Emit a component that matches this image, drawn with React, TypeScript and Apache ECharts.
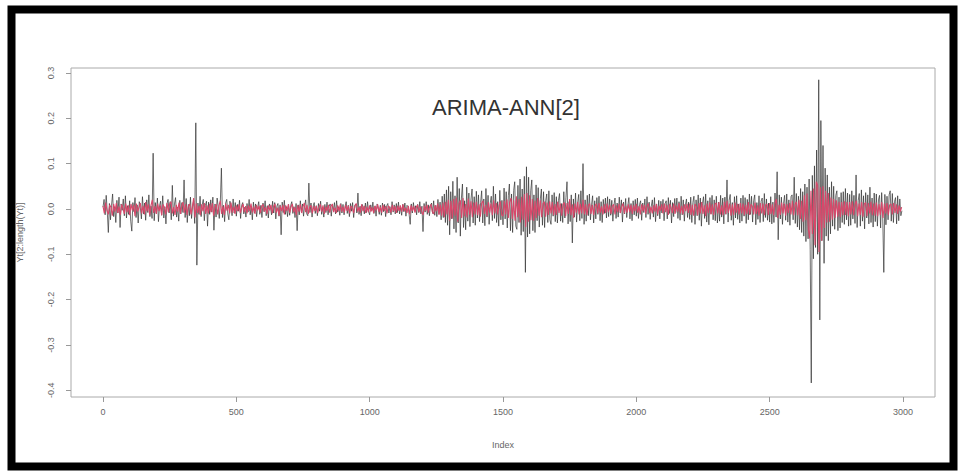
import React, { useEffect, useRef } from "react";
import * as echarts from "echarts";

// Observed series Yt (black), sampled every 4 index steps (25 values per 100 indices)
const STEP_BLACK = 4;
const observed: number[] = [
  .004, .021, -.013, .030, -.006, -.052, .012, -.024, .008, .033, -.017, .005, -.030, .019, -.009, .026, -.041, .011, -.003, .022, -.015, .029, -.020, .007, -.012,
  .018, -.027, -.049, .014, -.006, .025, -.019, .009, -.031, .016, .003, -.022, .027, -.011, .013, -.025, .020, -.008, .031, -.017, .006, -.021, .123, -.026, .014,
  -.010, .024, -.028, .007, .017, -.014, .029, -.020, .005, -.033, .012, .021, -.009, .016, -.024, .052, -.016, .011, .025, -.018, .004, -.027, .019, -.011, .014,
  -.008, .064, -.019, .023, -.030, .010, -.015, .026, -.021, .006, .018, -.032, .190, -.124, .013, -.012, .028, -.017, .009, .021, -.026, .008, .017, -.038, .015,
  -.012, .020, -.007, .026, -.047, .011, -.018, .024, .005, -.021, .016, .090, -.019, .008, -.028, .013, .021, -.011, -.024, .017, .006, -.015, .022, -.009, .014,
  -.016, .010, -.005, .019, -.021, .008, .014, -.011, .004, -.018, .012, -.007, .021, -.013, .006, -.024, .015, -.009, .011, -.017, .003, .016, -.012, .008, -.019,
  .013, -.006, .018, -.015, .007, -.020, .011, .004, -.013, .017, -.009, .014, -.022, .006, .012, -.016, .009, -.057, .015, -.008, .019, -.012, .005, -.017, .010,
  -.014, .008, .016, -.010, .005, -.019, .012, -.048, .009, -.013, .018, -.006, .011, -.016, .007, .020, -.011, -.015, .057, -.008, .013, -.018, .006, .014, -.010,
  .007, -.015, .012, -.005, .017, -.012, .004, -.018, .010, -.008, .015, -.013, .006, .011, -.016, .009, -.004, .014, -.011, .018, -.007, .005, -.014, .012, -.009,
  .010, -.013, .006, .016, -.010, .008, -.017, .012, -.005, .014, -.019, .007, .011, -.009, .035, -.012, .006, -.015, .010, .004, -.011, .013, -.008, .016, -.006,
  -.013, .009, -.004, .015, -.010, .006, -.016, .011, .003, -.012, .008, -.014, .013, -.006, .010, -.017, .007, .012, -.009, .005, -.013, .016, -.007, .009, -.011,
  .012, -.008, .015, -.011, .004, -.014, .010, -.006, .013, -.016, .008, .005, -.012, -.034, .011, -.009, .014, -.005, .007, -.013, .010, -.008, .016, -.011, .006,
  -.050, .012, -.007, .016, -.012, .009, -.015, .006, .013, -.010, .018, -.014, .008, -.017, .021, -.011, .015, -.024, .028, -.019, .033, -.030, .042, -.036, .050,
  -.057, .038, -.022, .061, -.044, .029, -.052, .070, -.031, .045, -.060, .024, .055, -.041, .018, -.046, .048, -.027, .035, -.039, .022, .044, -.031, .027, -.036,
  .039, -.020, .031, -.028, .014, .040, -.031, .022, -.037, .045, -.018, .030, -.034, .012, .028, -.026, .050, -.021, .033, -.030, .016, -.038, .041, -.024, .019,
  -.035, .046, -.022, .038, -.042, .029, .055, -.048, .033, -.052, .041, .060, -.038, -.045, .052, -.030, .066, -.058, .044, -.050, .072, -.140, .093, -.062, .070,
  -.055, .040, .064, -.048, .031, -.052, .053, -.026, .047, -.040, .022, .044, -.036, .038, -.041, .018, .033, -.030, .040, -.024, -.034, .031, -.016, .036, -.028,
  .027, -.031, .019, .034, -.027, .012, -.030, .038, -.020, .025, .060, -.033, .016, -.028, .031, -.075, .022, -.018, .035, -.029, .014, .032, -.026, .040, -.021,
  .100, -.034, .020, -.027, .030, -.015, .033, -.024, .009, .029, -.031, .018, -.022, .025, -.012, .028, -.026, .016, -.030, .021, -.010, .024, -.020, .027, -.017,
  .022, -.014, .019, -.027, .008, .024, -.021, .013, -.018, .026, -.009, .020, -.029, .015, -.011, .023, -.019, .007, .025, -.022, .012, -.026, .018, -.013, .021,
  -.016, .024, -.021, .010, .018, -.025, .013, -.008, .022, -.019, .027, -.012, .015, -.023, .006, .020, -.018, .025, -.028, .011, -.015, .019, -.022, .017, -.009,
  .021, -.026, .012, .018, -.022, .025, -.010, .019, -.031, .014, -.017, .023, -.008, .024, -.021, .016, -.025, .028, -.013, .020, -.027, .009, .022, -.019, .015,
  -.023, .026, -.030, .014, .028, -.034, .020, -.015, .031, -.025, .024, -.038, .012, .027, -.021, .033, -.029, .018, -.035, .025, -.011, .030, -.024, .020, -.026,
  .028, -.031, .015, -.027, .030, -.018, .024, -.033, .026, -.012, .064, -.029, .019, .032, -.025, .014, -.036, .027, -.020, .029, -.023, .011, -.031, .024, -.027,
  .030, -.016, .025, -.032, .021, -.024, .033, -.012, .028, -.029, .018, .031, -.035, .014, -.023, .029, -.030, .017, .024, -.028, .034, -.019, .022, -.025, .013,
  -.029, .027, -.033, .015, -.030, .035, -.018, .082, -.068, .031, -.022, .026, -.034, .012, .030, -.025, .033, -.029, .020, -.036, .027, .031, -.024, .070, -.032,
  .034, -.040, .028, -.046, .045, -.052, .038, -.060, .055, -.072, .048, -.066, .066, -.090, -.384, .074, -.110, .095, -.085, .130, -.100, .285, -.245, .195, -.070,
  .140, -.120, .090, -.060, .075, -.070, .048, -.055, .060, -.038, .050, -.045, .030, .040, -.048, .026, -.042, .036, -.030, .038, -.034, .045, -.024, .035, -.038,
  .032, -.036, .040, -.022, .030, -.032, .075, -.041, .018, .034, -.038, .042, -.027, .029, -.044, .036, -.020, .031, -.033, .048, -.030, .024, -.040, .035, -.028,
  .033, -.038, .020, .030, -.042, .036, -.018, -.140, .032, -.035, .028, -.024, .031, .040, -.027, .034, -.030, .016, .025, -.033, .029, -.026, .022, -.015, -.004,
];

// Fitted ARIMA-ANN values (red), sampled every 5 index steps (20 values per 100 indices)
const STEP_RED = 5;
const fitted: number[] = [
  .006, -.010, .014, -.004, -.012, .009, .003, -.015, .011, -.006, .013, -.009, .005, -.013, .010, .002, -.011, .012, -.007, .008,
  -.014, .011, -.003, .009, -.016, .012, -.006, .004, .013, -.010, .007, -.012, .015, -.005, .010, -.013, .008, .020, -.009, .006,
  -.011, .012, -.005, .008, -.014, .010, .003, -.012, .013, -.007, .011, .016, -.010, .004, -.013, .009, -.006, .014, -.011, .007,
  .015, -.008, .010, -.013, .006, .011, -.012, .004, .024, -.019, .012, -.009, .007, -.014, .010, -.005, .013, -.011, .008, -.010,
  .011, -.007, .013, -.015, .005, .010, -.012, .008, .018, -.011, .006, -.013, .012, -.004, .009, -.010, .014, -.008, .005, -.011,
  .008, -.005, .010, -.009, .003, .011, -.007, .006, -.010, .008, -.004, .012, -.008, .005, -.011, .009, -.003, .007, -.009, .006,
  .010, -.006, .004, -.011, .008, -.003, .009, -.010, .006, .011, -.008, .003, -.015, .007, -.005, .009, -.012, .008, -.004, .010,
  -.009, .005, .011, -.007, .004, -.014, .008, -.006, .010, -.009, .005, .013, -.007, .009, -.011, .004, .008, -.010, .006, -.005,
  .007, -.009, .004, .010, -.006, .008, -.011, .005, -.004, .009, -.008, .006, .011, -.007, .003, -.009, .008, -.005, .010, -.006,
  .005, -.008, .009, -.004, .007, -.010, .006, .003, -.009, .008, .012, -.006, .004, -.008, .010, -.005, .007, -.009, .005, -.007,
  .008, -.006, .004, -.009, .007, -.003, .010, -.007, .005, -.008, .009, -.004, .006, -.010, .007, .003, -.008, .009, -.005, .006,
  -.009, .007, -.004, .008, -.006, .010, -.005, .003, -.009, .007, -.012, .008, -.005, .006, -.008, .004, .009, -.007, .005, -.006,
  -.013, .007, -.004, .009, -.008, .005, .010, -.006, -.011, .008, -.005, .012, -.013, .009, -.015, .014, -.018, .016, -.012, .020,
  -.026, .018, -.021, .022, -.015, .025, -.028, .012, .019, -.020, .024, -.016, .011, -.019, .023, -.013, .017, -.018, .014, -.012,
  .016, -.014, .010, -.017, .013, .018, -.011, .009, -.016, .015, -.008, .012, -.014, .019, -.010, .013, -.012, .008, .017, -.013,
  -.016, .018, -.012, .021, -.020, .015, .024, -.022, .019, -.026, .028, -.018, .022, -.030, .027, -.024, .033, -.040, .035, -.028,
  .030, -.025, .022, -.026, .018, -.020, .024, -.015, .019, -.018, .012, .016, -.017, .014, -.013, .017, -.010, .015, -.014, .011,
  -.013, .016, -.009, .012, -.015, .010, .014, -.016, .013, -.011, .022, -.014, .010, -.020, .012, -.008, .015, -.012, .011, -.010,
  .020, -.012, .010, -.014, .008, .012, -.011, .009, -.013, .007, .011, -.010, .013, -.008, .006, -.012, .010, -.009, .012, -.007,
  .009, -.011, .006, .010, -.012, .008, -.007, .011, -.009, .005, .012, -.010, .007, -.008, .010, -.006, .009, -.011, .008, -.005,
  .011, -.008, .006, -.012, .010, -.005, .009, -.011, .007, .012, -.009, .005, -.010, .008, -.006, .011, -.012, .007, -.004, .010,
  -.010, .012, -.007, .009, -.013, .011, .004, -.009, .012, -.011, .008, -.006, .013, -.010, .007, -.012, .010, -.005, .011, -.009,
  .012, -.013, .009, -.015, .011, .006, -.014, .013, -.010, .015, -.011, .008, -.016, .012, -.009, .014, -.012, .010, -.013, .011,
  .013, -.010, .015, -.012, .008, -.014, .016, -.011, .018, -.009, .012, -.015, .010, -.013, .014, -.008, .011, -.012, .013, -.010,
  .012, -.014, .009, -.011, .015, -.013, .010, .006, -.012, .014, -.011, .008, -.015, .013, -.010, .012, -.014, .009, .011, -.013,
  .013, -.011, .010, -.014, .012, .022, -.020, .009, -.013, .014, -.010, .012, -.015, .011, -.009, .013, -.012, .018, -.014, .010,
  .016, -.014, .020, -.022, .018, -.028, .030, -.025, .034, -.045, -.065, .040, -.055, .045, -.080, .060, .052, -.095, .048, -.070,
  .050, -.042, .040, -.030, .035, -.028, .025, -.024, .022, -.020, .019, -.017, .016, -.018, .015, -.014, .017, -.013, .015, -.016,
  .015, -.012, .017, -.014, .010, .018, -.016, .012, -.013, .015, -.017, .011, .014, -.016, .013, -.010, .016, -.014, .012, -.015,
  .014, -.016, .011, -.013, .015, -.020, .012, -.010, .013, -.014, .009, .011, -.012, .013, -.009, .010, -.011, .008, -.006, .004,
];

const xTicks: number[] = [0, 500, 1000, 1500, 2000, 2500, 3000];
const yTicks: number[] = [-0.4, -0.3, -0.2, -0.1, 0.0, 0.1, 0.2, 0.3];

const TITLE = "ARIMA-ANN[2]";
const X_NAME = "Index";
const Y_NAME = "Yt[2:length(Yt)]";

export default function App() {
  const ref = useRef<HTMLDivElement>(null);
  useEffect(() => {
    if (!ref.current) return;
    const chart = echarts.init(ref.current, null, { renderer: "svg" });
    const labelFont = { fontFamily: "Liberation Sans, Arial, sans-serif", fontSize: 9, color: "#666" };
    chart.setOption({
      animation: false,
      backgroundColor: "#fff",
      grid: {
        left: 71, right: 25, top: 68, bottom: 74,
        show: true, borderColor: "#aaa", borderWidth: 1, backgroundColor: "transparent",
      },
      xAxis: {
        type: "value", min: -120, max: 3120,
        name: X_NAME, nameLocation: "middle", nameGap: 43,
        nameTextStyle: { ...labelFont },
        axisLine: { show: false, onZero: false },
        splitLine: { show: false },
        axisTick: { show: true, length: 5, customValues: xTicks, lineStyle: { color: "#999" } },
        axisLabel: { ...labelFont, margin: 10, customValues: xTicks, formatter: (v: number) => String(v) },
      },
      yAxis: {
        type: "value", min: -0.415, max: 0.311,
        name: Y_NAME, nameLocation: "middle", nameGap: 47, nameRotate: 90,
        nameTextStyle: { ...labelFont },
        axisLine: { show: false, onZero: false },
        splitLine: { show: false },
        axisTick: { show: true, length: 5, customValues: yTicks, lineStyle: { color: "#999" } },
        axisLabel: { ...labelFont, margin: 16, rotate: 90, customValues: yTicks, formatter: (v: number) => v.toFixed(1) },
      },
      graphic: [
        {
          type: "text", left: 432, top: 96,
          style: { text: TITLE, font: "22px Liberation Sans, Arial, sans-serif", fill: "#333" },
        },
        {
          type: "rect", shape: { x: 11.5, y: 9.5, width: 942, height: 457 },
          style: { fill: "none", stroke: "#000", lineWidth: 8 }, silent: true,
        },
      ],
      series: [
        {
          type: "line", showSymbol: false, silent: true,
          data: observed.map((v, i) => [i * STEP_BLACK, v]),
          lineStyle: { color: "#333", width: 0.7 },
        },
        {
          type: "line", showSymbol: false, silent: true,
          data: fitted.map((v, i) => [i * STEP_RED, v]),
          lineStyle: { color: "#d9476a", width: 1.1 },
        },
      ],
    });
    return () => chart.dispose();
  }, []);
  return (
    <div
      ref={ref}
      style={{ position: "fixed", left: 0, top: 0, width: 960, height: 471, background: "#fff" }}
    />
  );
}
